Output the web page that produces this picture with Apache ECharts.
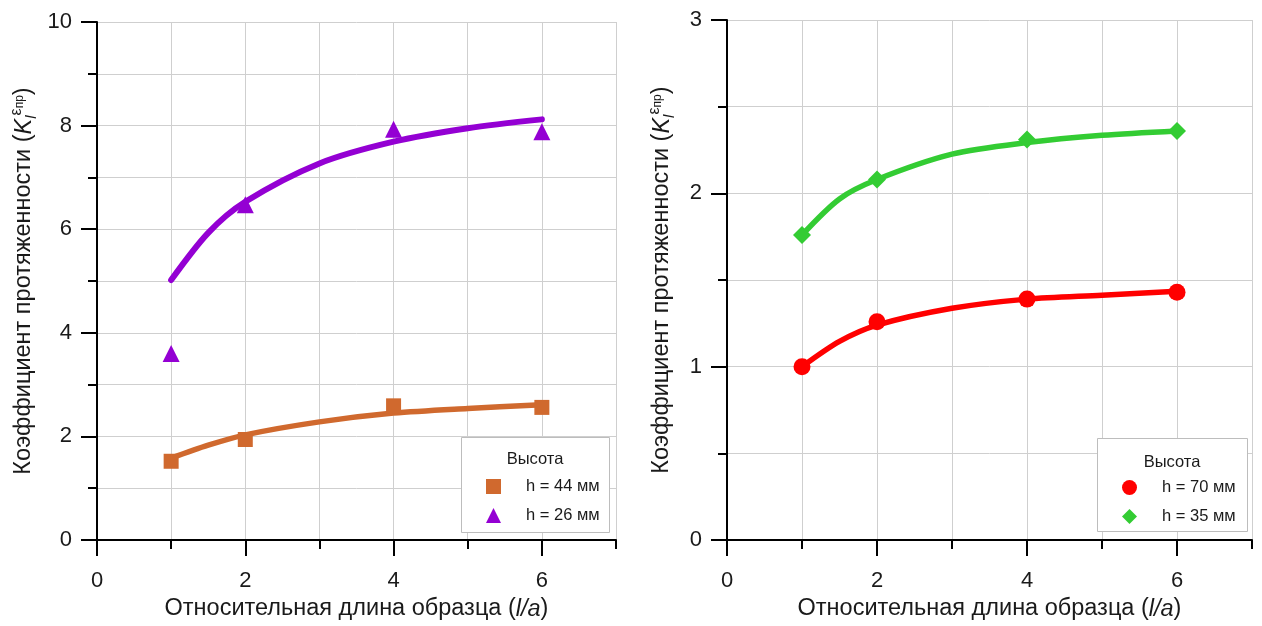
<!DOCTYPE html>
<html><head><meta charset="utf-8">
<script src="https://cdn.jsdelivr.net/npm/echarts@6/dist/echarts.min.js"></script>
<style>html,body{margin:0;padding:0;background:#fff}#c{width:1262px;height:626px}</style>
</head><body><div id="c"></div>
<script>
// ---- data ----
const xPts = [1, 2, 4, 6];
const xFit = [1, 1.5, 2, 3, 4, 5, 6];
const h44 = [1.52, 1.94, 2.59, 2.56];
const h26 = [3.60, 6.47, 7.93, 7.88];
const h44Fit = [1.58, 1.83, 2.03, 2.28, 2.45, 2.54, 2.61];
const h26Fit = [5.02, 5.93, 6.53, 7.27, 7.69, 7.95, 8.12];
const h70 = [1.00, 1.26, 1.39, 1.43];
const h35 = [1.76, 2.08, 2.31, 2.36];
const h70Fit = [1.00, 1.146, 1.24, 1.337, 1.39, 1.413, 1.436];
const h35Fit = [1.76, 1.968, 2.08, 2.226, 2.293, 2.335, 2.36];
const xMajorTicks = [0, 2, 4, 6];
const xMinorTicks = [1, 3, 5, 7];
const names = ['h = 44 мм', 'h = 26 мм', 'h = 70 мм', 'h = 35 мм'];
const legendTitle = 'Высота';
const xTitle = '{t|Относительная длина образца (}{i|l/a}{t|)}';
const yTitle = '{t|Коэффициент протяженности (}{k|K}{sub|l}{sup|ε}{sup2|пр}{t|)}';

const FONT = 'Liberation Sans, Arial, sans-serif';
const TXT = '#1a1a1a';
const GRIDC = '#cfcfcf';

const pair = (xs, ys) => xs.map((x, i) => [x, ys[i]]);

const richY = {
  t: {fontSize: 23.5, fontFamily: FONT, color: TXT, lineHeight: 30},
  k: {fontSize: 23.5, fontFamily: FONT, color: TXT, fontStyle: 'italic', lineHeight: 30},
  sub: {fontSize: 15, fontFamily: FONT, color: TXT, fontStyle: 'italic', verticalAlign: 'bottom', lineHeight: 13},
  sup: {fontSize: 16, fontFamily: FONT, color: TXT, verticalAlign: 'top', lineHeight: 15},
  sup2: {fontSize: 12, fontFamily: FONT, color: TXT, verticalAlign: 'top', lineHeight: 12, padding: [5, 0, 0, 0]}
};
const richX = {
  t: {fontSize: 23.5, fontFamily: FONT, color: TXT},
  i: {fontSize: 23.5, fontFamily: FONT, color: TXT, fontStyle: 'italic'}
};

function mainX(gi, gap) {
  return {
    type: 'value', gridIndex: gi, min: 0, max: 7, interval: 1, position: 'bottom',
    axisLine: {show: true, onZero: false, lineStyle: {color: '#000', width: 2}},
    axisTick: {show: true, customValues: xMajorTicks, length: 16, lineStyle: {color: '#000', width: 2}},
    axisLabel: {customValues: xMajorTicks, fontSize: 22, fontFamily: FONT, color: TXT, margin: 30},
    splitLine: {show: true, lineStyle: {color: GRIDC, width: 1}},
    name: xTitle, nameLocation: 'middle', nameGap: gap, nameTextStyle: {rich: richX}
  };
}
function minorX(gi) {
  return {
    type: 'value', gridIndex: gi, min: 0, max: 7, interval: 1, position: 'bottom',
    axisLine: {show: false, onZero: false},
    axisTick: {show: true, customValues: xMinorTicks, length: 9, lineStyle: {color: '#000', width: 2}},
    axisLabel: {show: false},
    splitLine: {show: true, lineStyle: {color: GRIDC, width: 1}}
  };
}
function yAx(gi, max, interval, gap) {
  return {
    type: 'value', gridIndex: gi, min: 0, max: max, interval: interval,
    axisLine: {show: true, onZero: false, lineStyle: {color: '#000', width: 2}},
    axisTick: {show: true, length: 16, lineStyle: {color: '#000', width: 2}},
    minorTick: {show: true, splitNumber: 2, length: 9, lineStyle: {color: '#000', width: 2}},
    axisLabel: {fontSize: 22, fontFamily: FONT, color: TXT, margin: 25},
    splitLine: {show: true, lineStyle: {color: GRIDC, width: 1}},
    minorSplitLine: {show: true, lineStyle: {color: GRIDC, width: 1}},
    name: yTitle, nameLocation: 'middle', nameRotate: 90, nameGap: gap, nameTextStyle: {rich: richY}
  };
}
function fitLine(gi, xs, ys, color, w) {
  return {type: 'line', xAxisIndex: gi * 2, yAxisIndex: gi, data: pair(xs, ys), smooth: 0.3,
    showSymbol: false, symbol: 'none', lineStyle: {color: color, width: w, cap: 'round', join: 'round'}, silent: true, z: 2};
}
function pts(gi, name, ys, symbol, size, color, z) {
  return {type: 'scatter', name: name, xAxisIndex: gi * 2, yAxisIndex: gi, data: pair(xPts, ys),
    symbol: symbol, symbolSize: size, itemStyle: {color: color, opacity: 1}, z: z};
}
function legend(left, top, data) {
  return {left: left, top: top, orient: 'vertical', itemWidth: 15, itemHeight: 15, itemGap: 12, padding: 0,
    data: data, textStyle: {fontSize: 16.5, fontFamily: FONT, color: TXT, padding: [0, 0, 0, 20]}, z: 6};
}
function box(x, y, w, h, cx, ty) {
  return [
    {type: 'rect', shape: {x: x, y: y, width: w, height: h}, style: {fill: '#fff', stroke: '#bdbdbd', lineWidth: 1}, z: 5},
    {type: 'text', x: cx, y: ty, style: {text: legendTitle, fontSize: 16.5, fontFamily: FONT, fill: TXT, align: 'center', verticalAlign: 'middle'}, z: 6}
  ];
}

const chart = echarts.init(document.getElementById('c'), null, {renderer: 'canvas'});
chart.setOption({
  animation: false,
  backgroundColor: '#fff',
  grid: [
    {left: 97, top: 22, width: 519, height: 518},
    {left: 727, top: 20, width: 525, height: 523}
  ],
  xAxis: [mainX(0, 57), minorX(0), mainX(1, 55), minorX(1)],
  yAxis: [yAx(0, 10, 2, 58), yAx(1, 3, 1, 50)],
  legend: [
    legend(486, 478, [names[0], names[1]]),
    legend(1122, 479, [names[2], names[3]])
  ],
  graphic: [].concat(box(461.5, 437.5, 148, 95, 535, 459), box(1097.5, 438.5, 150, 93, 1172, 462)),
  series: [
    fitLine(0, xFit, h44Fit, '#D0692E', 5.5),
    pts(0, names[0], h44, 'rect', 15, '#D0692E', 3),
    pts(0, names[1], h26, 'triangle', 17, '#9400D3', 3),
    fitLine(0, xFit, h26Fit, '#9400D3', 6),
    fitLine(1, xFit, h70Fit, '#FF0000', 5.5),
    pts(1, names[2], h70, 'circle', 17, '#FF0000', 3),
    fitLine(1, xFit, h35Fit, '#33CC33', 5.5),
    pts(1, names[3], h35, 'diamond', 18, '#33CC33', 3)
  ]
});
</script>
</body></html>
